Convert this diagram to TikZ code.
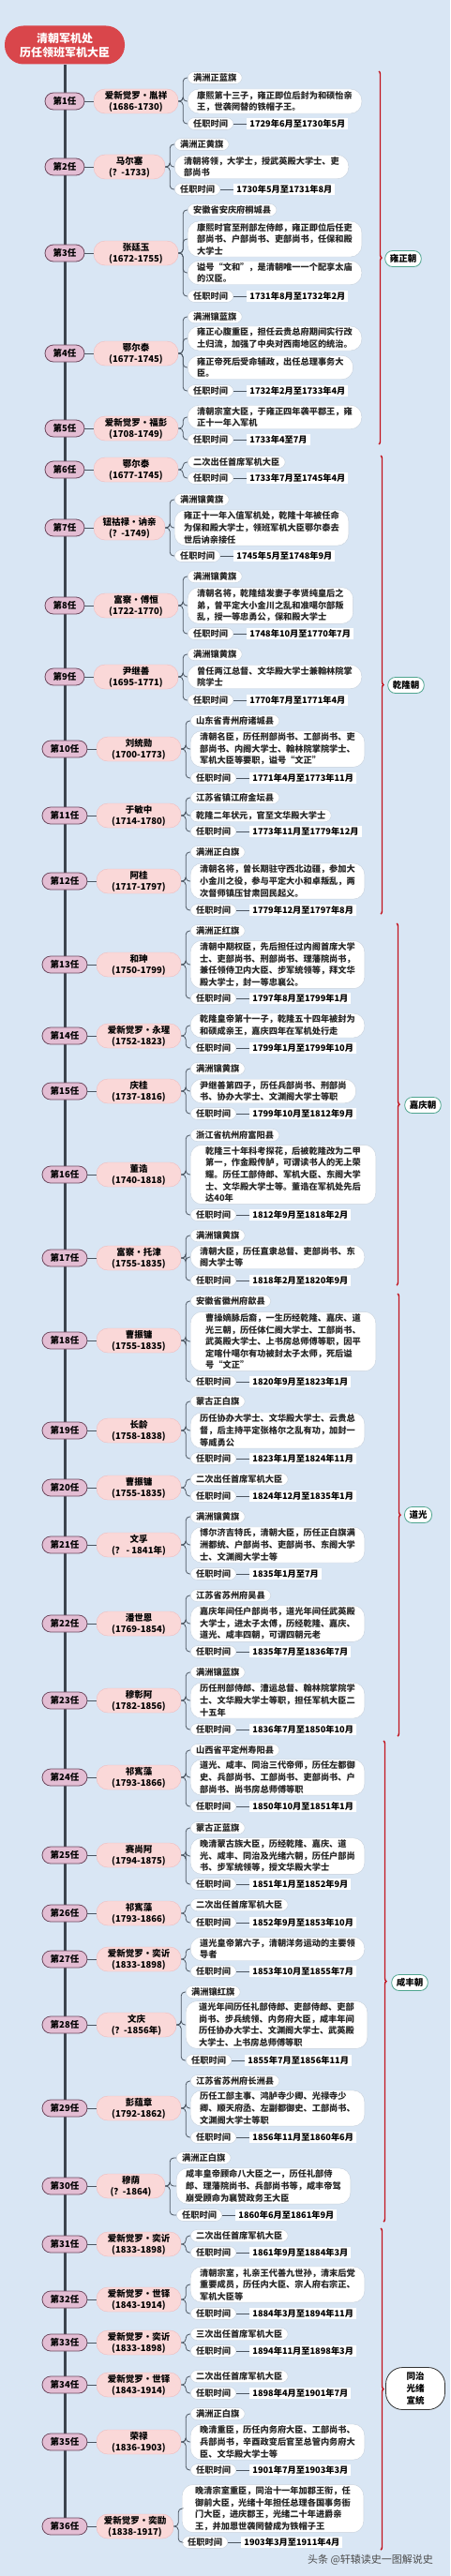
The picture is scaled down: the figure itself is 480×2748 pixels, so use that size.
\documentclass[tikz,border=0pt]{standalone}
\usepackage{fontspec}
\setmainfont{Noto Sans CJK SC}
\usepackage{tikz}
\usetikzlibrary{positioning, decorations.pathreplacing}
\pgfdeclarelayer{under}
\pgfsetlayers{under,main}

\definecolor{paper}{HTML}{D9E6F4}
\definecolor{titlered}{HTML}{D9464B}
\definecolor{rankfill}{HTML}{E3BDD3}
\definecolor{rankedge}{HTML}{6E4A60}
\definecolor{namefill}{HTML}{FAD8D8}
\definecolor{nameedge}{HTML}{F0BCBE}
\definecolor{factedge}{HTML}{C6D0DC}
\definecolor{wire}{HTML}{4B5561}
\definecolor{erared}{HTML}{C2121C}
\definecolor{eraedge}{HTML}{4FA58F}

\tikzstyle{headline} = [
    rectangle,
    rounded corners=20pt,
    fill=titlered,
    text=white,
    align=center,
    minimum width=128pt,
    minimum height=41pt,
    font=\bfseries\fontsize{12}{15}\selectfont
]
\tikzstyle{rank} = [
    rectangle,
    rounded corners=9pt,
    fill=rankfill,
    draw=rankedge,
    line width=0.8pt,
    minimum width=42pt,
    minimum height=18pt,
    inner sep=0pt,
    font=\bfseries\fontsize{9.5}{11}\selectfont
]
\tikzstyle{person} = [
    rectangle,
    rounded corners=12pt,
    fill=namefill,
    draw=nameedge,
    minimum width=90pt,
    minimum height=26pt,
    inner sep=1pt,
    align=center,
    font=\bfseries\fontsize{9.5}{12}\selectfont
]
\tikzstyle{fact} = [
    rectangle,
    rounded corners=12pt,
    fill=white,
    draw=factedge,
    anchor=west,
    align=left,
    inner xsep=10pt,
    inner ysep=2pt,
    text=black!85,
    font=\bfseries\fontsize{9.2}{12.6}\selectfont
]
\tikzstyle{tag} = [fact, rounded corners=7pt, inner xsep=6pt]
\tikzstyle{term} = [tag]
\tikzstyle{period} = [
    rectangle,
    fill=white,
    inner xsep=3pt,
    inner ysep=2pt,
    font=\bfseries\fontsize{9.2}{11}\selectfont
]
\tikzstyle{branch} = [draw=wire, line width=0.8pt, rounded corners=4pt]
\tikzstyle{spine} = [draw=wire!80!black, line width=3pt]
\tikzstyle{era} = [
    draw=erared,
    line width=1.4pt,
    decorate,
    decoration={brace, amplitude=3pt}
]
\tikzstyle{reign} = [
    rectangle,
    rounded corners=8pt,
    fill=white,
    draw=eraedge,
    line width=0.8pt,
    minimum height=17pt,
    inner xsep=5pt,
    font=\bfseries\fontsize{9.5}{13}\selectfont
]

\begin{document}
\begin{tikzpicture}[x=1pt, y=-1pt]

\useasboundingbox (0,0) rectangle (480,2748);

\node (title) [headline] at (69,48) {清朝军机处\\历任领班军机大臣};

% 1
\node (r1) [rank] at (69,108) {第1任};
\node (n1) [person] at (145,108) {爱新觉罗•胤祥\\(1686-1730)};
\node (a1) [tag] at (200,83) {满洲正蓝旗};
\node (b1) [fact] at (200,108) {康熙第十三子，雍正即位后封为和硕怡亲\\王，世袭罔替的铁帽子王。};
\node (t1) [term] at (200,132) {任职时间};
\node (p1) [period, right=14pt of t1] {1729年6月至1730年5月};
\draw [branch] (r1) -- (n1);
\draw [branch] (n1.east) -- ++(5,0) |- (a1.west);
\draw [branch] (n1.east) -- ++(5,0) |- (b1.west);
\draw [branch] (n1.east) -- ++(5,0) |- (t1.west);
\draw [branch] (t1) -- (p1);

% 2
\node (r2) [rank] at (69,178) {第2任};
\node (n2) [person, minimum width=76pt] at (138,178) {马尔塞\\(？-1733)};
\node (a2) [tag] at (186,154) {满洲正黄旗};
\node (b2) [fact] at (186,178) {清朝将领，大学士，授武英殿大学士、吏\\部尚书};
\node (t2) [term] at (186,202) {任职时间};
\node (p2) [period, right=14pt of t2] {1730年5月至1731年8月};
\draw [branch] (r2) -- (n2);
\draw [branch] (n2.east) -- ++(5,0) |- (a2.west);
\draw [branch] (n2.east) -- ++(5,0) |- (b2.west);
\draw [branch] (n2.east) -- ++(5,0) |- (t2.west);
\draw [branch] (t2) -- (p2);

% 3
\node (r3) [rank] at (69,270) {第3任};
\node (n3) [person] at (145,270) {张廷玉\\(1672-1755)};
\node (a3) [tag] at (200,224) {安徽省安庆府桐城县};
\node (b3) [fact] at (200,255) {康熙时官至刑部左侍郎，雍正即位后任吏\\部尚书、户部尚书、吏部尚书，任保和殿\\大学士};
\node (c3) [fact] at (200,291) {谥号“文和”，是清朝唯一一个配享太庙\\的汉臣。};
\node (t3) [term] at (200,316) {任职时间};
\node (p3) [period, right=14pt of t3] {1731年8月至1732年2月};
\draw [branch] (r3) -- (n3);
\draw [branch] (n3.east) -- ++(5,0) |- (a3.west);
\draw [branch] (n3.east) -- ++(5,0) |- (b3.west);
\draw [branch] (n3.east) -- ++(5,0) |- (c3.west);
\draw [branch] (n3.east) -- ++(5,0) |- (t3.west);
\draw [branch] (t3) -- (p3);

% 4
\node (r4) [rank] at (69,377) {第4任};
\node (n4) [person] at (145,377) {鄂尔泰\\(1677-1745)};
\node (a4) [tag] at (200,338) {满洲镶蓝旗};
\node (b4) [fact] at (200,361) {雍正心腹重臣，担任云贵总府期间实行改\\土归流，加强了中央对西南地区的统治。};
\node (c4) [fact] at (200,392) {雍正帝死后受命辅政，出任总理事务大\\臣。};
\node (t4) [term] at (200,417) {任职时间};
\node (p4) [period, right=14pt of t4] {1732年2月至1733年4月};
\draw [branch] (r4) -- (n4);
\draw [branch] (n4.east) -- ++(5,0) |- (a4.west);
\draw [branch] (n4.east) -- ++(5,0) |- (b4.west);
\draw [branch] (n4.east) -- ++(5,0) |- (c4.west);
\draw [branch] (n4.east) -- ++(5,0) |- (t4.west);
\draw [branch] (t4) -- (p4);

% 5
\node (r5) [rank] at (69,457) {第5任};
\node (n5) [person] at (145,457) {爱新觉罗•福彭\\(1708-1749)};
\node (b5) [fact] at (200,445) {清朝宗室大臣，于雍正四年袭平郡王，雍\\正十一年入军机};
\node (t5) [term] at (200,469) {任职时间};
\node (p5) [period, right=14pt of t5] {1733年4至7月};
\draw [branch] (r5) -- (n5);
\draw [branch] (n5.east) -- ++(5,0) |- (b5.west);
\draw [branch] (n5.east) -- ++(5,0) |- (t5.west);
\draw [branch] (t5) -- (p5);

% 6
\node (r6) [rank] at (69,501) {第6任};
\node (n6) [person] at (145,501) {鄂尔泰\\(1677-1745)};
\node (a6) [tag] at (200,493) {二次出任首席军机大臣};
\node (t6) [term] at (200,510) {任职时间};
\node (p6) [period, right=14pt of t6] {1733年7月至1745年4月};
\draw [branch] (r6) -- (n6);
\draw [branch] (n6.east) -- ++(5,0) |- (a6.west);
\draw [branch] (n6.east) -- ++(5,0) |- (t6.west);
\draw [branch] (t6) -- (p6);

% 7
\node (r7) [rank] at (69,563) {第7任};
\node (n7) [person, minimum width=76pt] at (138,563) {钮祜禄•讷亲\\(？-1749)};
\node (a7) [tag] at (186,533) {满洲镶黄旗};
\node (b7) [fact] at (186,563) {雍正十一年入值军机处，乾隆十年被任命\\为保和殿大学士，领班军机大臣鄂尔泰去\\世后讷亲接任};
\node (t7) [term] at (186,593) {任职时间};
\node (p7) [period, right=14pt of t7] {1745年5月至1748年9月};
\draw [branch] (r7) -- (n7);
\draw [branch] (n7.east) -- ++(5,0) |- (a7.west);
\draw [branch] (n7.east) -- ++(5,0) |- (b7.west);
\draw [branch] (n7.east) -- ++(5,0) |- (t7.west);
\draw [branch] (t7) -- (p7);

% 8
\node (r8) [rank] at (69,646) {第8任};
\node (n8) [person] at (145,646) {富察•傅恒\\(1722-1770)};
\node (a8) [tag] at (200,615) {满洲镶黄旗};
\node (b8) [fact] at (200,646) {清朝名将，乾隆结发妻子孝贤纯皇后之\\弟，曾平定大小金川之乱和准噶尔部叛\\乱，授一等忠勇公，保和殿大学士};
\node (t8) [term] at (200,676) {任职时间};
\node (p8) [period, right=14pt of t8] {1748年10月至1770年7月};
\draw [branch] (r8) -- (n8);
\draw [branch] (n8.east) -- ++(5,0) |- (a8.west);
\draw [branch] (n8.east) -- ++(5,0) |- (b8.west);
\draw [branch] (n8.east) -- ++(5,0) |- (t8.west);
\draw [branch] (t8) -- (p8);

% 9
\node (r9) [rank] at (69,722) {第9任};
\node (n9) [person] at (145,722) {尹继善\\(1695-1771)};
\node (a9) [tag] at (200,698) {满洲镶黄旗};
\node (b9) [fact] at (200,722) {曾任两江总督、文华殿大学士兼翰林院掌\\院学士};
\node (t9) [term] at (200,747) {任职时间};
\node (p9) [period, right=14pt of t9] {1770年7月至1771年4月};
\draw [branch] (r9) -- (n9);
\draw [branch] (n9.east) -- ++(5,0) |- (a9.west);
\draw [branch] (n9.east) -- ++(5,0) |- (b9.west);
\draw [branch] (n9.east) -- ++(5,0) |- (t9.west);
\draw [branch] (t9) -- (p9);

% 10
\node (r10) [rank, minimum width=48pt] at (69,799) {第10任};
\node (n10) [person] at (148,799) {刘统勋\\(1700-1773)};
\node (a10) [tag] at (203,769) {山东省青州府诸城县};
\node (b10) [fact] at (203,799) {清朝名臣，历任刑部尚书、工部尚书、吏\\部尚书、内阁大学士、翰林院掌院学士、\\军机大臣等要职，谥号“文正”};
\node (t10) [term] at (203,830) {任职时间};
\node (p10) [period, right=14pt of t10] {1771年4月至1773年11月};
\draw [branch] (r10) -- (n10);
\draw [branch] (n10.east) -- ++(5,0) |- (a10.west);
\draw [branch] (n10.east) -- ++(5,0) |- (b10.west);
\draw [branch] (n10.east) -- ++(5,0) |- (t10.west);
\draw [branch] (t10) -- (p10);

% 11
\node (r11) [rank, minimum width=48pt] at (69,870) {第11任};
\node (n11) [person] at (148,870) {于敏中\\(1714-1780)};
\node (a11) [tag] at (203,851) {江苏省镇江府金坛县};
\node (b11) [tag] at (203,870) {乾隆二年状元，官至文华殿大学士};
\node (t11) [term] at (203,887) {任职时间};
\node (p11) [period, right=14pt of t11] {1773年11月至1779年12月};
\draw [branch] (r11) -- (n11);
\draw [branch] (n11.east) -- ++(5,0) |- (a11.west);
\draw [branch] (n11.east) -- ++(5,0) |- (b11.west);
\draw [branch] (n11.east) -- ++(5,0) |- (t11.west);
\draw [branch] (t11) -- (p11);

% 12
\node (r12) [rank, minimum width=48pt] at (69,940) {第12任};
\node (n12) [person] at (148,940) {阿桂\\(1717-1797)};
\node (a12) [tag] at (203,909) {满洲正白旗};
\node (b12) [fact] at (203,940) {清朝名将，曾长期驻守西北边疆，参加大\\小金川之役，参与平定大小和卓叛乱，两\\次督师镇压甘肃回民起义。};
\node (t12) [term] at (203,971) {任职时间};
\node (p12) [period, right=14pt of t12] {1779年12月至1797年8月};
\draw [branch] (r12) -- (n12);
\draw [branch] (n12.east) -- ++(5,0) |- (a12.west);
\draw [branch] (n12.east) -- ++(5,0) |- (b12.west);
\draw [branch] (n12.east) -- ++(5,0) |- (t12.west);
\draw [branch] (t12) -- (p12);

% 13
\node (r13) [rank, minimum width=48pt] at (69,1029) {第13任};
\node (n13) [person] at (148,1029) {和珅\\(1750-1799)};
\node (a13) [tag] at (203,993) {满洲正红旗};
\node (b13) [fact] at (203,1029) {清朝中期权臣，先后担任过内阁首席大学\\士、吏部尚书、刑部尚书、理藩院尚书，\\兼任领侍卫内大臣、步军统领等，拜文华\\殿大学士，封一等忠襄公。};
\node (t13) [term] at (203,1065) {任职时间};
\node (p13) [period, right=14pt of t13] {1797年8月至1799年1月};
\draw [branch] (r13) -- (n13);
\draw [branch] (n13.east) -- ++(5,0) |- (a13.west);
\draw [branch] (n13.east) -- ++(5,0) |- (b13.west);
\draw [branch] (n13.east) -- ++(5,0) |- (t13.west);
\draw [branch] (t13) -- (p13);

% 14
\node (r14) [rank, minimum width=48pt] at (69,1105) {第14任};
\node (n14) [person] at (148,1105) {爱新觉罗•永瑆\\(1752-1823)};
\node (b14) [fact] at (203,1094) {乾隆皇帝第十一子，乾隆五十四年被封为\\和硕成亲王，嘉庆四年在军机处行走};
\node (t14) [term] at (203,1118) {任职时间};
\node (p14) [period, right=14pt of t14] {1799年1月至1799年10月};
\draw [branch] (r14) -- (n14);
\draw [branch] (n14.east) -- ++(5,0) |- (b14.west);
\draw [branch] (n14.east) -- ++(5,0) |- (t14.west);
\draw [branch] (t14) -- (p14);

% 15
\node (r15) [rank, minimum width=48pt] at (69,1164) {第15任};
\node (n15) [person] at (148,1164) {庆桂\\(1737-1816)};
\node (a15) [tag] at (203,1140) {满洲镶黄旗};
\node (b15) [fact] at (203,1164) {尹继善第四子，历任兵部尚书、刑部尚\\书、协办大学士、文渊阁大学士等职};
\node (t15) [term] at (203,1188) {任职时间};
\node (p15) [period, right=14pt of t15] {1799年10月至1812年9月};
\draw [branch] (r15) -- (n15);
\draw [branch] (n15.east) -- ++(5,0) |- (a15.west);
\draw [branch] (n15.east) -- ++(5,0) |- (b15.west);
\draw [branch] (n15.east) -- ++(5,0) |- (t15.west);
\draw [branch] (t15) -- (p15);

% 16
\node (r16) [rank, minimum width=48pt] at (69,1253) {第16任};
\node (n16) [person] at (148,1253) {董诰\\(1740-1818)};
\node (a16) [tag] at (203,1211) {浙江省杭州府富阳县};
\node (b16) [fact, inner xsep=16pt] at (203,1253) {乾隆三十年科考探花，后被乾隆改为二甲\\第一，作金殿传胪，可谓读书人的无上荣\\耀。历任工部侍郎、军机大臣、东阁大学\\士、文华殿大学士等。董诰在军机处先后\\达40年};
\node (t16) [term] at (203,1296) {任职时间};
\node (p16) [period, right=14pt of t16] {1812年9月至1818年2月};
\draw [branch] (r16) -- (n16);
\draw [branch] (n16.east) -- ++(5,0) |- (a16.west);
\draw [branch] (n16.east) -- ++(5,0) |- (b16.west);
\draw [branch] (n16.east) -- ++(5,0) |- (t16.west);
\draw [branch] (t16) -- (p16);

% 17
\node (r17) [rank, minimum width=48pt] at (69,1342) {第17任};
\node (n17) [person] at (148,1342) {富察•托津\\(1755-1835)};
\node (a17) [tag] at (203,1318) {满洲镶黄旗};
\node (b17) [fact] at (203,1341) {清朝大臣，历任直隶总督、吏部尚书、东\\阁大学士等};
\node (t17) [term] at (203,1366) {任职时间};
\node (p17) [period, right=14pt of t17] {1818年2月至1820年9月};
\draw [branch] (r17) -- (n17);
\draw [branch] (n17.east) -- ++(5,0) |- (a17.west);
\draw [branch] (n17.east) -- ++(5,0) |- (b17.west);
\draw [branch] (n17.east) -- ++(5,0) |- (t17.west);
\draw [branch] (t17) -- (p17);

% 18
\node (r18) [rank, minimum width=48pt] at (69,1430) {第18任};
\node (n18) [person] at (148,1430) {曹振镛\\(1755-1835)};
\node (a18) [tag] at (203,1388) {安徽省徽州府歙县};
\node (b18) [fact, inner xsep=16pt] at (203,1431) {曹操嫡脉后裔，一生历经乾隆、嘉庆、道\\光三朝，历任体仁阁大学士、工部尚书、\\武英殿大学士、上书房总师傅等职，因平\\定喀什噶尔有功被封太子太师，死后谥\\号“文正”};
\node (t18) [term] at (203,1474) {任职时间};
\node (p18) [period, right=14pt of t18] {1820年9月至1823年1月};
\draw [branch] (r18) -- (n18);
\draw [branch] (n18.east) -- ++(5,0) |- (a18.west);
\draw [branch] (n18.east) -- ++(5,0) |- (b18.west);
\draw [branch] (n18.east) -- ++(5,0) |- (t18.west);
\draw [branch] (t18) -- (p18);

% 19
\node (r19) [rank, minimum width=48pt] at (69,1526) {第19任};
\node (n19) [person] at (148,1526) {长龄\\(1758-1838)};
\node (a19) [tag] at (203,1495) {蒙古正白旗};
\node (b19) [fact] at (203,1526) {历任协办大学士、文华殿大学士、云贵总\\督，后主持平定张格尔之乱有功，加封一\\等威勇公};
\node (t19) [term] at (203,1556) {任职时间};
\node (p19) [period, right=14pt of t19] {1823年1月至1824年11月};
\draw [branch] (r19) -- (n19);
\draw [branch] (n19.east) -- ++(5,0) |- (a19.west);
\draw [branch] (n19.east) -- ++(5,0) |- (b19.west);
\draw [branch] (n19.east) -- ++(5,0) |- (t19.west);
\draw [branch] (t19) -- (p19);

% 20
\node (r20) [rank, minimum width=48pt] at (69,1587) {第20任};
\node (n20) [person] at (148,1587) {曹振镛\\(1755-1835)};
\node (a20) [tag] at (203,1578) {二次出任首席军机大臣};
\node (t20) [term] at (203,1596) {任职时间};
\node (p20) [period, right=14pt of t20] {1824年12月至1835年1月};
\draw [branch] (r20) -- (n20);
\draw [branch] (n20.east) -- ++(5,0) |- (a20.west);
\draw [branch] (n20.east) -- ++(5,0) |- (t20.west);
\draw [branch] (t20) -- (p20);

% 21
\node (r21) [rank, minimum width=48pt] at (69,1648) {第21任};
\node (n21) [person] at (148,1648) {文孚\\(？ - 1841年)};
\node (a21) [tag] at (203,1618) {满洲镶黄旗};
\node (b21) [fact] at (203,1648) {博尔济吉特氏，清朝大臣，历任正白旗满\\洲都统、户部尚书、吏部尚书、东阁大学\\士、文渊阁大学士等};
\node (t21) [term] at (203,1679) {任职时间};
\node (p21) [period, right=14pt of t21] {1835年1月至7月};
\draw [branch] (r21) -- (n21);
\draw [branch] (n21.east) -- ++(5,0) |- (a21.west);
\draw [branch] (n21.east) -- ++(5,0) |- (b21.west);
\draw [branch] (n21.east) -- ++(5,0) |- (t21.west);
\draw [branch] (t21) -- (p21);

% 22
\node (r22) [rank, minimum width=48pt] at (69,1732) {第22任};
\node (n22) [person] at (148,1732) {潘世恩\\(1769-1854)};
\node (a22) [tag] at (203,1702) {江苏省苏州府吴县};
\node (b22) [fact] at (203,1732) {嘉庆年间任户部尚书，道光年间任武英殿\\大学士，进太子太傅，历经乾隆、嘉庆、\\道光、咸丰四朝，可谓四朝元老};
\node (t22) [term] at (203,1762) {任职时间};
\node (p22) [period, right=14pt of t22] {1835年7月至1836年7月};
\draw [branch] (r22) -- (n22);
\draw [branch] (n22.east) -- ++(5,0) |- (a22.west);
\draw [branch] (n22.east) -- ++(5,0) |- (b22.west);
\draw [branch] (n22.east) -- ++(5,0) |- (t22.west);
\draw [branch] (t22) -- (p22);

% 23
\node (r23) [rank, minimum width=48pt] at (69,1814) {第23任};
\node (n23) [person] at (148,1814) {穆彰阿\\(1782-1856)};
\node (a23) [tag] at (203,1784) {满洲镶蓝旗};
\node (b23) [fact] at (203,1814) {历任刑部侍郎、漕运总督、翰林院掌院学\\士、文华殿大学士等职，担任军机大臣二\\十五年};
\node (t23) [term] at (203,1845) {任职时间};
\node (p23) [period, right=14pt of t23] {1836年7月至1850年10月};
\draw [branch] (r23) -- (n23);
\draw [branch] (n23.east) -- ++(5,0) |- (a23.west);
\draw [branch] (n23.east) -- ++(5,0) |- (b23.west);
\draw [branch] (n23.east) -- ++(5,0) |- (t23.west);
\draw [branch] (t23) -- (p23);

% 24
\node (r24) [rank, minimum width=48pt] at (69,1896) {第24任};
\node (n24) [person] at (148,1896) {祁寯藻\\(1793-1866)};
\node (a24) [tag] at (203,1867) {山西省平定州寿阳县};
\node (b24) [fact] at (203,1896) {道光、咸丰、同治三代帝师，历任左都御\\史、兵部尚书、工部尚书、吏部尚书、户\\部尚书、尚书房总师傅等职};
\node (t24) [term] at (203,1927) {任职时间};
\node (p24) [period, right=14pt of t24] {1850年10月至1851年1月};
\draw [branch] (r24) -- (n24);
\draw [branch] (n24.east) -- ++(5,0) |- (a24.west);
\draw [branch] (n24.east) -- ++(5,0) |- (b24.west);
\draw [branch] (n24.east) -- ++(5,0) |- (t24.west);
\draw [branch] (t24) -- (p24);

% 25
\node (r25) [rank, minimum width=48pt] at (69,1979) {第25任};
\node (n25) [person] at (148,1979) {赛尚阿\\(1794-1875)};
\node (a25) [tag] at (203,1950) {蒙古正蓝旗};
\node (b25) [fact] at (203,1980) {晚清蒙古族大臣，历经乾隆、嘉庆、道\\光、咸丰、同治及光绪六朝，历任户部尚\\书、步军统领等，授文华殿大学士};
\node (t25) [term] at (203,2010) {任职时间};
\node (p25) [period, right=14pt of t25] {1851年1月至1852年9月};
\draw [branch] (r25) -- (n25);
\draw [branch] (n25.east) -- ++(5,0) |- (a25.west);
\draw [branch] (n25.east) -- ++(5,0) |- (b25.west);
\draw [branch] (n25.east) -- ++(5,0) |- (t25.west);
\draw [branch] (t25) -- (p25);

% 26
\node (r26) [rank, minimum width=48pt] at (69,2041) {第26任};
\node (n26) [person] at (148,2041) {祁寯藻\\(1793-1866)};
\node (a26) [tag] at (203,2032) {二次出任首席军机大臣};
\node (t26) [term] at (203,2051) {任职时间};
\node (p26) [period, right=14pt of t26] {1852年9月至1853年10月};
\draw [branch] (r26) -- (n26);
\draw [branch] (n26.east) -- ++(5,0) |- (a26.west);
\draw [branch] (n26.east) -- ++(5,0) |- (t26.west);
\draw [branch] (t26) -- (p26);

% 27
\node (r27) [rank, minimum width=48pt] at (69,2090) {第27任};
\node (n27) [person] at (148,2090) {爱新觉罗•奕䜣\\(1833-1898)};
\node (b27) [fact] at (203,2079) {道光皇帝第六子，清朝洋务运动的主要领\\导者};
\node (t27) [term] at (203,2103) {任职时间};
\node (p27) [period, right=14pt of t27] {1853年10月至1855年7月};
\draw [branch] (r27) -- (n27);
\draw [branch] (n27.east) -- ++(5,0) |- (b27.west);
\draw [branch] (n27.east) -- ++(5,0) |- (t27.west);
\draw [branch] (t27) -- (p27);

% 28
\node (r28) [rank, minimum width=48pt] at (69,2160) {第28任};
\node (n28) [person, minimum width=85pt] at (145.5,2160) {文庆\\(？-1856年)};
\node (a28) [tag] at (198,2125) {满洲镶红旗};
\node (b28) [fact, inner xsep=14pt] at (198,2160) {道光年间历任礼部侍郎、吏部侍郎、吏部\\尚书、步兵统领、内务府大臣，咸丰年间\\历任协办大学士、文渊阁大学士、武英殿\\大学士、上书房总师傅等职};
\node (t28) [term] at (198,2198) {任职时间};
\node (p28) [period, right=14pt of t28] {1855年7月至1856年11月};
\draw [branch] (r28) -- (n28);
\draw [branch] (n28.east) -- ++(5,0) |- (a28.west);
\draw [branch] (n28.east) -- ++(5,0) |- (b28.west);
\draw [branch] (n28.east) -- ++(5,0) |- (t28.west);
\draw [branch] (t28) -- (p28);

% 29
\node (r29) [rank, minimum width=48pt] at (69,2249) {第29任};
\node (n29) [person] at (148,2249) {彭蕴章\\(1792-1862)};
\node (a29) [tag] at (203,2220) {江苏省苏州府长洲县};
\node (b29) [fact] at (203,2249) {历任工部主事、鸿胪寺少卿、光禄寺少\\卿、顺天府丞、左副都御史、工部尚书、\\文渊阁大学士等职};
\node (t29) [term] at (203,2280) {任职时间};
\node (p29) [period, right=14pt of t29] {1856年11月至1860年6月};
\draw [branch] (r29) -- (n29);
\draw [branch] (n29.east) -- ++(5,0) |- (a29.west);
\draw [branch] (n29.east) -- ++(5,0) |- (b29.west);
\draw [branch] (n29.east) -- ++(5,0) |- (t29.west);
\draw [branch] (t29) -- (p29);

% 30
\node (r30) [rank, minimum width=48pt] at (69,2332) {第30任};
\node (n30) [person, minimum width=73pt] at (139.5,2332) {穆荫\\(？-1864)};
\node (a30) [tag] at (188,2302) {满洲正白旗};
\node (b30) [fact] at (188,2332) {咸丰皇帝顾命八大臣之一，历任礼部侍\\郎、理藩院尚书、兵部尚书等，咸丰帝驾\\崩受顾命为襄赞政务王大臣};
\node (t30) [term] at (188,2363) {任职时间};
\node (p30) [period, right=14pt of t30] {1860年6月至1861年9月};
\draw [branch] (r30) -- (n30);
\draw [branch] (n30.east) -- ++(5,0) |- (a30.west);
\draw [branch] (n30.east) -- ++(5,0) |- (b30.west);
\draw [branch] (n30.east) -- ++(5,0) |- (t30.west);
\draw [branch] (t30) -- (p30);

% 31
\node (r31) [rank, minimum width=48pt] at (69,2394) {第31任};
\node (n31) [person] at (148,2394) {爱新觉罗•奕䜣\\(1833-1898)};
\node (a31) [tag] at (203,2385) {二次出任首席军机大臣};
\node (t31) [term] at (203,2403) {任职时间};
\node (p31) [period, right=14pt of t31] {1861年9月至1884年3月};
\draw [branch] (r31) -- (n31);
\draw [branch] (n31.east) -- ++(5,0) |- (a31.west);
\draw [branch] (n31.east) -- ++(5,0) |- (t31.west);
\draw [branch] (t31) -- (p31);

% 32
\node (r32) [rank, minimum width=48pt] at (69,2453) {第32任};
\node (n32) [person] at (148,2453) {爱新觉罗•世铎\\(1843-1914)};
\node (b32) [fact] at (203,2437) {清朝宗室，礼亲王代善九世孙，清末后党\\重要成员，历任内大臣、宗人府右宗正、\\军机大臣等};
\node (t32) [term] at (203,2468) {任职时间};
\node (p32) [period, right=14pt of t32] {1884年3月至1894年11月};
\draw [branch] (r32) -- (n32);
\draw [branch] (n32.east) -- ++(5,0) |- (b32.west);
\draw [branch] (n32.east) -- ++(5,0) |- (t32.west);
\draw [branch] (t32) -- (p32);

% 33
\node (r33) [rank, minimum width=48pt] at (69,2499) {第33任};
\node (n33) [person] at (148,2499) {爱新觉罗•奕䜣\\(1833-1898)};
\node (a33) [tag] at (203,2490) {三次出任首席军机大臣};
\node (t33) [term] at (203,2508) {任职时间};
\node (p33) [period, right=14pt of t33] {1894年11月至1898年3月};
\draw [branch] (r33) -- (n33);
\draw [branch] (n33.east) -- ++(5,0) |- (a33.west);
\draw [branch] (n33.east) -- ++(5,0) |- (t33.west);
\draw [branch] (t33) -- (p33);

% 34
\node (r34) [rank, minimum width=48pt] at (69,2544) {第34任};
\node (n34) [person] at (148,2544) {爱新觉罗•世铎\\(1843-1914)};
\node (a34) [tag] at (203,2535) {二次出任首席军机大臣};
\node (t34) [term] at (203,2553) {任职时间};
\node (p34) [period, right=14pt of t34] {1898年4月至1901年7月};
\draw [branch] (r34) -- (n34);
\draw [branch] (n34.east) -- ++(5,0) |- (a34.west);
\draw [branch] (n34.east) -- ++(5,0) |- (t34.west);
\draw [branch] (t34) -- (p34);

% 35
\node (r35) [rank, minimum width=48pt] at (69,2605) {第35任};
\node (n35) [person] at (148,2605) {荣禄\\(1836-1903)};
\node (a35) [tag] at (203,2575) {满洲正白旗};
\node (b35) [fact] at (203,2605) {晚清重臣，历任内务府大臣、工部尚书、\\兵部尚书，辛酉政变后官至总管内务府大\\臣、文华殿大学士等};
\node (t35) [term] at (203,2635) {任职时间};
\node (p35) [period, right=14pt of t35] {1901年7月至1903年3月};
\draw [branch] (r35) -- (n35);
\draw [branch] (n35.east) -- ++(5,0) |- (a35.west);
\draw [branch] (n35.east) -- ++(5,0) |- (b35.west);
\draw [branch] (n35.east) -- ++(5,0) |- (t35.west);
\draw [branch] (t35) -- (p35);

% 36
\node (r36) [rank, minimum width=48pt] at (69,2695) {第36任};
\node (n36) [person, minimum width=82pt] at (144,2695) {爱新觉罗•奕劻\\(1838-1917)};
\node (b36) [fact, inner xsep=14pt] at (194,2676) {晚清宗室重臣，同治十一年加郡王衔，任\\御前大臣，光绪十年担任总理各国事务衙\\门大臣，进庆郡王，光绪二十年进爵亲\\王，并加恩世袭罔替成为铁帽子王};
\node (t36) [term] at (194,2712) {任职时间};
\node (p36) [period, right=14pt of t36] {1903年3月至1911年4月};
\draw [branch] (r36) -- (n36);
\draw [branch] (n36.east) -- ++(5,0) |- (b36.west);
\draw [branch] (n36.east) -- ++(5,0) |- (t36.west);
\draw [branch] (t36) -- (p36);

% reigns
\coordinate (yz1) at (404,76);
\coordinate (yz2) at (404,474);
\coordinate (ql1) at (406,486);
\coordinate (ql2) at (406,975);
\coordinate (jq1) at (423,985);
\coordinate (jq2) at (423,1371);
\coordinate (dg1) at (424,1380);
\coordinate (dg2) at (424,1852);
\coordinate (xf1) at (409,1857);
\coordinate (xf2) at (409,2370);
\coordinate (tz1) at (406,2377);
\coordinate (tz2) at (406,2720);
\draw [era] (yz1) -- (yz2);
\draw [era] (ql1) -- (ql2);
\draw [era] (jq1) -- (jq2);
\draw [era] (dg1) -- (dg2);
\draw [era] (xf1) -- (xf2);
\draw [era] (tz1) -- (tz2);
\node (yz) [reign] at (430,276) {雍正朝};
\node (ql) [reign] at (433,731) {乾隆朝};
\node (jq) [reign] at (451,1179) {嘉庆朝};
\node (dg) [reign] at (446,1616) {道光};
\node (xf) [reign] at (437,2115) {咸丰朝};
\node (tz) [reign, draw=black!80, rounded corners=18pt, align=center, minimum width=63pt, minimum height=45pt] at (443,2548) {同治\\光绪\\宣统};

\node (credit) [text=black!70, font=\fontsize{11}{13}\selectfont] at (395,2731) {头条 @轩辕读史一图解说史};

\begin{pgfonlayer}{under}
\fill [paper] (0,0) rectangle (480,2748);
\draw [spine] (title) -- (r36);
\end{pgfonlayer}

\end{tikzpicture}
\end{document}
